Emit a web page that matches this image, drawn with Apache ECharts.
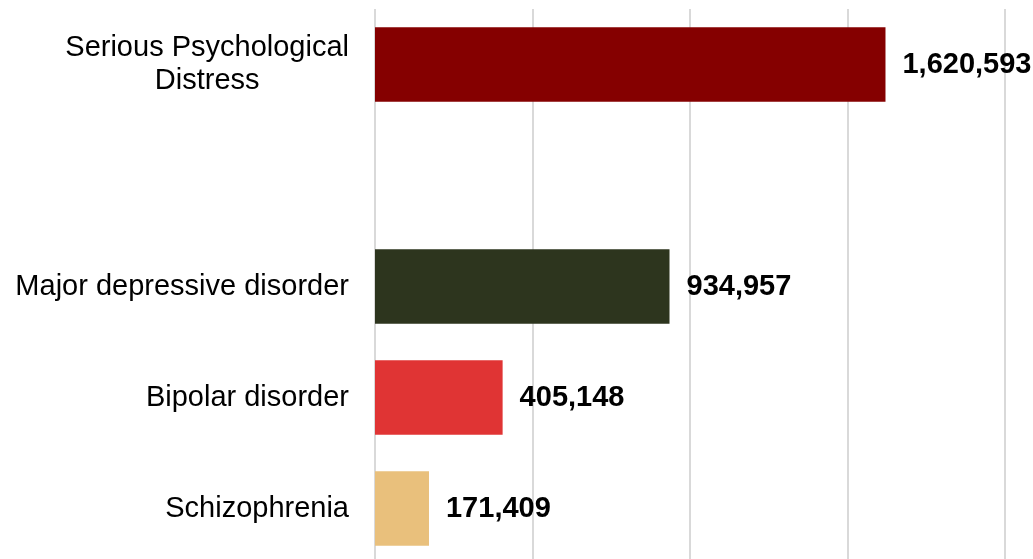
<!DOCTYPE html>
<html>
<head>
<meta charset="utf-8">
<script src="https://cdn.jsdelivr.net/npm/echarts@6/dist/echarts.min.js"></script>
<style>
	html, body {margin:0; padding:0; background:#ffffff; overflow:hidden;}
	#main {width:1033px; height:570px;}
</style>
</head>
<body>
<div id="main"></div>
<script>
// 类目（第二项为空行，用于留白）
var categories = ['Serious Psychological\nDistress', '', 'Major depressive disorder', 'Bipolar disorder', 'Schizophrenia'];
var values = [1620593, null, 934957, 405148, 171409];
var barColors = ['#850000', '#ffffff', '#2d351e', '#e03434', '#e9c07c'];
var xTicks = [0, 500000, 1000000, 1500000, 2000000];

var chart = echarts.init(document.getElementById('main'));

var seriesData = [];
for (var i = 0; i < values.length; i++) {
	seriesData.push({
		value: values[i],
		itemStyle: {color: barColors[i]}
	});
}

var option = {
	backgroundColor: '#ffffff',
	animation: false,
	grid: {
		left: 375,
		right: 28,
		top: 9,
		height: 555
	},
	xAxis: {
		type: 'value',
		min: xTicks[0],
		max: xTicks[xTicks.length - 1],
		interval: xTicks[1] - xTicks[0],
		axisLine: {show: false},
		axisTick: {show: false},
		axisLabel: {show: false},
		splitLine: {
			show: true,
			lineStyle: {color: '#d9d9d9', width: 2}
		}
	},
	yAxis: {
		type: 'category',
		inverse: true,
		data: categories,
		axisLine: {show: false},
		axisTick: {show: false},
		axisLabel: {
			margin: 26,
			color: '#000000',
			fontFamily: 'Liberation Sans, Arial, sans-serif',
			fontSize: 29,
			lineHeight: 33,
			formatter: function (val) {
				// 多行标签居中
				if (val.indexOf('\n') >= 0) {
					return val.split('\n').map(function (s) {
						return '{c|' + s + '}';
					}).join('\n');
				}
				return val;
			},
			rich: {
				c: {
					align: 'center',
					fontSize: 29,
					lineHeight: 33,
					color: '#000000',
					fontFamily: 'Liberation Sans, Arial, sans-serif'
				}
			}
		}
	},
	series: [{
		type: 'bar',
		data: seriesData,
		barCategoryGap: '33%',
		label: {
			show: true,
			position: 'right',
			distance: 17,
			color: '#000000',
			fontWeight: 'bold',
			fontSize: 29,
			fontFamily: 'Liberation Sans, Arial, sans-serif',
			formatter: function (p) {
				return p.value == null ? '' : Number(p.value).toLocaleString('en-US');
			}
		}
	}]
};

chart.setOption(option);
</script>
</body>
</html>
